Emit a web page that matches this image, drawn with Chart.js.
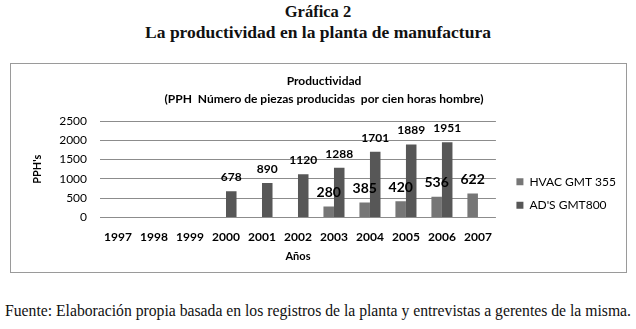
<!DOCTYPE html>
<html>
<head>
  <meta charset="utf-8">
  <title>La productividad en la planta de manufactura</title>
  <script src="https://cdn.jsdelivr.net/npm/chart.js"></script>
  <style>
    body { margin: 0; width: 636px; height: 329px; background: #fff; position: relative; overflow: hidden; }
    .serif { position: absolute; font-family: "Liberation Serif", "Times New Roman", serif; color: #111; white-space: nowrap; }
    #t1 { left: 0; width: 636px; top: 2px; line-height: 20px; font-size: 16.5px; font-weight: bold; text-align: center; }
    #t2 { left: 0; width: 636px; top: 22px; line-height: 20px; font-size: 17.5px; font-weight: bold; text-align: center; }
    #caja { position: absolute; left: 10px; top: 63px; width: 617px; height: 210px; box-sizing: border-box; border: 1px solid #9a9a9a; }
    #fuente { left: 5px; top: 302px; line-height: 18px; font-size: 15.7px; }
  </style>
</head>
<body>
  <div id="t1" class="serif">Gráfica 2</div>
  <div id="t2" class="serif">La productividad en la planta de manufactura</div>
  <div id="caja"><canvas id="productividadChart" width="615" height="208"></canvas></div>
  <div id="fuente" class="serif">Fuente: Elaboración propia basada en los registros de la planta y entrevistas a gerentes de la misma.</div>

  <script>
    // Datos
    const anios = ['1997', '1998', '1999', '2000', '2001', '2002', '2003', '2004', '2005', '2006', '2007'];
    const hvacGmt355 = [null, null, null, null, null, null, 280, 385, 420, 536, 622];
    const adsGmt800 = [null, null, null, 678, 890, 1120, 1288, 1701, 1889, 1951, null];
    const ticksY = [0, 500, 1000, 1500, 2000, 2500];

    const fuente = 'Lato';

    // etiquetas de datos encima de cada barra
    const etiquetas = {
      id: 'etiquetas',
      afterDatasetsDraw(chart) {
        const ctx = chart.ctx;
        chart.data.datasets.forEach((ds, i) => {
          const meta = chart.getDatasetMeta(i);
          meta.data.forEach((bar, j) => {
            const v = ds.data[j];
            if (v == null) return;
            ctx.save();
            ctx.font = 'bold ' + ds.tamEtiqueta + 'px ' + fuente;
            ctx.fillStyle = '#000';
            ctx.textAlign = 'center';
            ctx.textBaseline = 'middle';
            ctx.fillText(v, bar.x, bar.y - 14);
            ctx.restore();
          });
        });
      }
    };

    // mover la leyenda un poco a la derecha y abajo, como en el original
    const ajusteLeyenda = {
      id: 'ajusteLeyenda',
      afterLayout(chart) {
        const lg = chart.legend;
        lg.left += 9;
        lg.right += 9;
        lg.top += 30;
        lg.bottom += 30;
      }
    };

    const ctx = document.getElementById('productividadChart').getContext('2d');
    new Chart(ctx, {
      type: 'bar',
      data: {
        labels: anios,
        datasets: [{
          label: 'HVAC GMT 355',
          data: hvacGmt355,
          backgroundColor: '#767676',
          tamEtiqueta: 14
        }, {
          label: "AD'S GMT800",
          data: adsGmt800,
          backgroundColor: '#575757',
          tamEtiqueta: 12
        }]
      },
      plugins: [etiquetas, ajusteLeyenda],
      options: {
        responsive: false,
        animation: false,
        categoryPercentage: 0.585,
        barPercentage: 1,
        layout: { padding: { left: 20, right: 9, top: 0, bottom: 9 } },
        plugins: {
          title: {
            display: true,
            text: ['Productividad', '(PPH  Número de piezas producidas  por cien horas hombre)'],
            color: '#000',
            font: { family: fuente, size: 12, weight: 'bold', lineHeight: 1.5 },
            padding: { top: 8, bottom: 13 }
          },
          legend: {
            position: 'right',
            labels: {
              color: '#000',
              boxWidth: 7,
              boxHeight: 7,
              padding: 11.5,
              font: { family: fuente, size: 12 }
            }
          },
          tooltip: { enabled: false }
        },
        scales: {
          x: {
            grid: { display: false, drawTicks: false },
            border: { display: false },
            ticks: { color: '#000', padding: 13, font: { family: fuente, size: 12, weight: 'bold' } },
            title: { display: true, text: 'Años', color: '#000', padding: { top: -8, bottom: 0 }, font: { family: fuente, size: 11, weight: 'bold' } }
          },
          y: {
            min: 0,
            max: 2500,
            afterBuildTicks: axis => { axis.ticks = ticksY.map(v => ({ value: v })); },
            grid: { color: '#8c8c8c', lineWidth: 1, drawTicks: false },
            border: { display: false },
            ticks: { color: '#000', padding: 13, autoSkip: false, callback: v => String(v), font: { family: fuente, size: 12 } },
            title: { display: true, text: "PPH's", color: '#000', padding: { top: 0, bottom: 2 }, font: { family: fuente, size: 11, weight: 'bold' } }
          }
        }
      }
    });
  </script>
</body>
</html>
